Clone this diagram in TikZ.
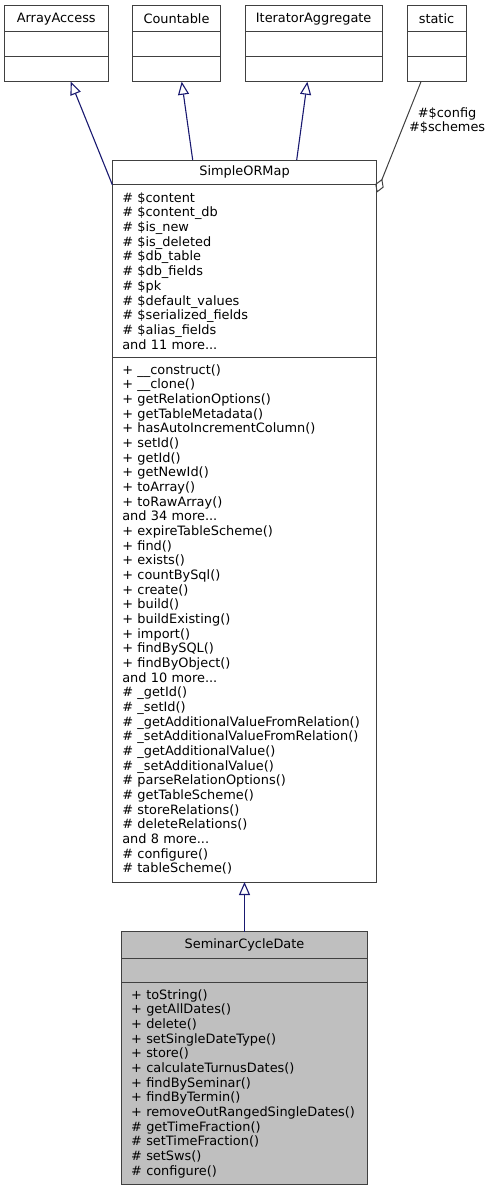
\documentclass[tikz,border=0pt]{standalone}
\usepackage{fontspec}
\setmainfont{DejaVu Sans}
\usetikzlibrary{arrows.meta, positioning}
\definecolor{boxgray}{RGB}{64, 64, 64}
\definecolor{edgeblue}{RGB}{25, 25, 112}
\definecolor{edgegray}{RGB}{64, 64, 64}
\definecolor{focusgray}{RGB}{191, 191, 191}
\newcommand{\umlfont}{\fontsize{12.9}{14.67}\selectfont\hyphenpenalty=10000}
\tikzset{
  classpart/.style={
    rectangle, draw=boxgray, line width=1pt, fill=white,
    inner xsep=10pt, inner ysep=0pt, outer sep=0pt,
    font=\umlfont
  },
  titlepart/.style={
    classpart, align=center
  },
  listpart/.style={
    classpart, align=left
  },
  focus/.style={
    fill=focusgray
  },
  inherit/.style={
    -{Triangle[open, length=13pt, width=11pt]}, line width=1.1pt, color=edgeblue
  },
  usage/.style={
    -{Diamond[open, length=15pt, width=9pt]}, line width=1pt, color=edgegray
  },
  edgelabel/.style={
    font=\umlfont, align=center, inner sep=2pt, text=black
  }
}

\begin{document}
\begin{tikzpicture}[x=1pt, y=-1pt, node distance=0pt]
  \useasboundingbox (0,0) rectangle (491,1191);

  % ── Interfaces and static (top row) ──────────────────
  \node[titlepart, minimum width=103.5pt, minimum height=26pt, anchor=north west]
    (aa) at (4.5,5.7) {ArrayAccess};
  \node[classpart, minimum width=103.5pt, minimum height=25pt, below=of aa] (aaattr) {};
  \node[classpart, minimum width=103.5pt, minimum height=25pt, below=of aaattr] (aaops) {};

  \node[titlepart, minimum width=87.6pt, minimum height=26pt, right=24.7pt of aa]
    (cnt) {Countable};
  \node[classpart, minimum width=87.6pt, minimum height=25pt, below=of cnt] (cntattr) {};
  \node[classpart, minimum width=87.6pt, minimum height=25pt, below=of cntattr] (cntops) {};

  \node[titlepart, minimum width=137.3pt, minimum height=26pt, right=24.7pt of cnt]
    (ia) {IteratorAggregate};
  \node[classpart, minimum width=137.3pt, minimum height=25pt, below=of ia] (iaattr) {};
  \node[classpart, minimum width=137.3pt, minimum height=25pt, below=of iaattr] (iaops) {};

  \node[titlepart, minimum width=59pt, minimum height=26pt, right=24.7pt of ia]
    (st) {static};
  \node[classpart, minimum width=59pt, minimum height=25pt, below=of st] (stattr) {};
  \node[classpart, minimum width=59pt, minimum height=25pt, below=of stattr] (stops) {};

  % ── SimpleORMap ──────────────────────────────────────
  \node[titlepart, minimum width=264.4pt, minimum height=24.7pt, anchor=north west]
    (sorm) at (112.3,160) {SimpleORMap};
  \node[listpart, minimum width=264.4pt, minimum height=172.3pt, text width=244.4pt,
        below=of sorm] (sormattr)
    {\# \$content\\
     \# \$content\_db\\
     \# \$is\_new\\
     \# \$is\_deleted\\
     \# \$db\_table\\
     \# \$db\_fields\\
     \# \$pk\\
     \# \$default\_values\\
     \# \$serialized\_fields\\
     \# \$alias\_fields\\
     and 11 more...};
  \node[listpart, minimum width=264.4pt, minimum height=525pt, text width=244.4pt,
        below=of sormattr] (sormops)
    {+ \_\_construct()\\
     + \_\_clone()\\
     + getRelationOptions()\\
     + getTableMetadata()\\
     + hasAutoIncrementColumn()\\
     + setId()\\
     + getId()\\
     + getNewId()\\
     + toArray()\\
     + toRawArray()\\
     and 34 more...\\
     + expireTableScheme()\\
     + find()\\
     + exists()\\
     + countBySql()\\
     + create()\\
     + build()\\
     + buildExisting()\\
     + import()\\
     + findBySQL()\\
     + findByObject()\\
     and 10 more...\\
     \# \_getId()\\
     \# \_setId()\\
     \# \_getAdditionalValueFromRelation()\\
     \# \_setAdditionalValueFromRelation()\\
     \# \_getAdditionalValue()\\
     \# \_setAdditionalValue()\\
     \# parseRelationOptions()\\
     \# getTableScheme()\\
     \# storeRelations()\\
     \# deleteRelations()\\
     and 8 more...\\
     \# configure()\\
     \# tableScheme()};

  % ── SeminarCycleDate ─────────────────────────────────
  \node[titlepart, focus, minimum width=246.7pt, minimum height=26.6pt,
        below=49.7pt of sormops] (scd) {SeminarCycleDate};
  \node[classpart, focus, minimum width=246.7pt, minimum height=24.4pt,
        below=of scd] (scdattr) {};
  \node[listpart, focus, minimum width=246.7pt, minimum height=201.6pt, text width=226.7pt,
        below=of scdattr] (scdops)
    {+ toString()\\
     + getAllDates()\\
     + delete()\\
     + setSingleDateType()\\
     + store()\\
     + calculateTurnusDates()\\
     + findBySeminar()\\
     + findByTermin()\\
     + removeOutRangedSingleDates()\\
     \# getTimeFraction()\\
     \# setTimeFraction()\\
     \# setSws()\\
     \# configure()};

  % ── Arrows: inheritance ──────────────────────────────
  \draw[inherit] (sorm.south west) -- ([xshift=14.5pt]aaops.south);
  \draw[inherit] ([xshift=-51.8pt]sorm.north) -- ([xshift=5.2pt]cntops.south);
  \draw[inherit] ([xshift=52.2pt]sorm.north) -- ([xshift=-6.3pt]iaops.south);
  \draw[inherit] (scd.north) -- (sormops.south);

  % ── Arrow: static members ────────────────────────────
  \draw[usage] ([xshift=-15.5pt]stops.south) --
    node[edgelabel, pos=0.35, anchor=west, xshift=1pt] (cfglbl) {\#\$config\\\#\$schemes}
    ([yshift=-8pt]sormattr.north east);

\end{tikzpicture}
\end{document}
